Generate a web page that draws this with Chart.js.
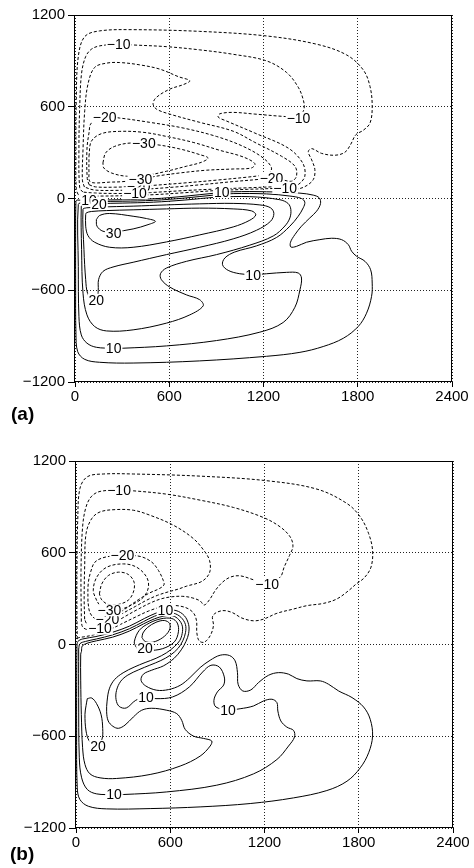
<!DOCTYPE html>
<html>
<head>
<meta charset="utf-8">
<script src="https://cdn.jsdelivr.net/npm/chart.js@4.4.1/dist/chart.umd.min.js"></script>
<style>
  body { margin:0; background:#fff; width:474px; height:868px; position:relative; overflow:hidden; font-family:"Liberation Sans", Arial, sans-serif; }
  canvas { position:absolute; }
  #chartA { top:0; left:0; }
  #chartB { top:446px; left:1px; }
  .tag { position:absolute; font-weight:bold; font-size:19px; line-height:19px; color:#000; }
</style>
</head>
<body>
<canvas id="chartA" width="474" height="410"></canvas>
<canvas id="chartB" width="474" height="410"></canvas>
<div class="tag" style="left:11px;top:404px">(a)</div>
<div class="tag" style="left:10px;top:844px">(b)</div>
<script>
// axes
const xTicks = [0, 600, 1200, 1800, 2400];
const yTicks = [-1200, -600, 0, 600, 1200];
const xTickLabels = ['0', '600', '1200', '1800', '2400'];
const yTickLabels = ['−1200', '−600', '0', '600', '1200'];

// ---- panel (a): negative (dashed) contours, [x, y]
const aNeg1 = [[20,26],[8,60],[6,320],[8,646],[21,928],[62,1059],[157,1096],[370,1104],[794,1093],[1219,1063],[1538,1009],[1729,939],[1835,841],[1878,733],[1892,602],[1878,493],[1835,446],[1788,417],[1754,352],[1718,302],[1655,283],[1570,295],[1507,326],[1485,306],[1507,252],[1527,189],[1517,124],[1464,78],[1400,60],[1338,68],[1279,66],[1100,60],[900,52],[700,38],[500,25],[300,18],[150,16],[60,18],[20,26]];
const aNeg2 = [[50,42],[30,70],[25,320],[30,602],[42,820],[68,928],[104,976],[157,998],[278,1009],[370,1004],[582,993],[794,972],[1007,943],[1219,900],[1347,824],[1421,728],[1453,646],[1459,591],[1440,550],[1400,535],[1325,537],[1145,552],[1007,563],[922,554],[911,533],[964,507],[1145,428],[1357,330],[1449,233],[1463,146],[1421,91],[1368,80],[1250,76],[1100,70],[900,62],[700,52],[500,40],[382,34],[250,33],[120,36],[50,42]];
const aNeg3 = [[60,75],[47,120],[51,320],[62,576],[83,750],[125,857],[200,885],[285,889],[412,874],[540,846],[660,796],[731,770],[690,745],[603,715],[518,661],[497,620],[518,585],[603,552],[794,498],[1007,440],[1145,367],[1315,276],[1400,211],[1410,146],[1378,113],[1300,128],[1251,135],[1170,125],[1000,110],[800,90],[600,72],[400,58],[250,53],[120,56],[60,75]];
const aNeg4 = [[90,90],[78,130],[76,320],[89,428],[104,493],[189,533],[285,526],[476,498],[688,461],[900,406],[1070,341],[1198,265],[1251,200],[1230,163],[1177,150],[1100,140],[900,120],[700,102],[500,86],[405,80],[250,74],[130,76],[90,90]];
const aNeg5 = [[89,276],[104,374],[168,424],[285,439],[433,433],[582,406],[752,367],[922,315],[1070,272],[1145,228],[1124,200],[1007,193],[837,185],[667,167],[518,146],[416,124],[300,110],[221,107],[125,102],[93,113],[89,167],[89,276]];
const aNeg6 = [[178,233],[195,298],[253,341],[359,363],[518,352],[667,324],[794,287],[847,265],[805,237],[709,211],[582,178],[455,152],[327,146],[232,167],[183,200],[178,233]];

// ---- panel (a): positive (solid) contours
const aPos1 = [[13,-10],[6,-17],[4,-200],[4,-553],[6,-881],[17,-1001],[62,-1052],[157,-1071],[370,-1076],[794,-1062],[1219,-1032],[1432,-1006],[1580,-968],[1708,-914],[1803,-837],[1856,-750],[1888,-640],[1892,-553],[1882,-466],[1846,-411],[1793,-378],[1761,-345],[1740,-302],[1697,-269],[1633,-260],[1559,-269],[1474,-286],[1410,-313],[1374,-317],[1372,-286],[1400,-236],[1442,-181],[1495,-127],[1538,-83],[1563,-33],[1555,4],[1517,22],[1432,35],[1219,44],[1007,44],[880,34],[700,15],[500,-2],[300,-8],[157,-10],[51,-12],[13,-10]];
const aPos2 = [[51,-24],[21,-39],[21,-444],[25,-772],[40,-892],[76,-946],[136,-973],[246,-979],[306,-979],[582,-964],[901,-929],[1177,-874],[1325,-811],[1400,-711],[1432,-597],[1442,-520],[1421,-487],[1347,-483],[1219,-492],[1134,-498],[1049,-492],[975,-470],[939,-433],[954,-389],[1017,-350],[1155,-310],[1283,-255],[1368,-181],[1421,-116],[1453,-61],[1463,-24],[1442,0],[1368,16],[1219,30],[1007,32],[880,22],[700,3],[500,-12],[300,-18],[157,-20],[51,-24]];
const aPos3 = [[51,-38],[40,-50],[42,-335],[51,-619],[76,-761],[125,-837],[200,-866],[370,-859],[582,-815],[731,-761],[816,-702],[794,-662],[709,-630],[603,-579],[550,-531],[544,-492],[582,-455],[709,-411],[901,-367],[1113,-305],[1262,-245],[1336,-180],[1368,-127],[1374,-72],[1357,-33],[1304,-8],[1113,12],[900,8],[700,-10],[500,-24],[300,-30],[157,-33],[51,-38]];
const aPos4 = [[72,-61],[51,-70],[57,-335],[68,-531],[80,-620],[110,-665],[140,-650],[148,-600],[150,-531],[178,-477],[242,-448],[370,-417],[582,-367],[794,-319],[1007,-264],[1155,-208],[1245,-149],[1266,-98],[1245,-61],[1177,-42],[1007,-32],[794,-35],[582,-42],[370,-50],[157,-56],[72,-61]];
const aPos5 = [[68,-105],[68,-181],[83,-243],[125,-286],[221,-319],[370,-319],[582,-284],[794,-238],[1007,-186],[1113,-142],[1151,-107],[1124,-81],[1007,-68],[794,-63],[582,-68],[370,-74],[200,-79],[104,-85],[72,-94],[68,-105]];
const aPos6 = [[136,-138],[157,-111],[221,-98],[370,-116],[455,-131],[512,-149],[465,-171],[370,-199],[246,-218],[178,-214],[140,-181],[136,-138]];

// contour labels of panel (a): [x, y, text]
const aLabels = [
  [278,1009,'−10'], [1423,528,'−10'], [189,533,'−20'], [438,363,'−30'],
  [1251,135,'−20'], [1338,70,'−10'], [405,80,'−20'], [382,34,'−10'], [416,124,'−30'],
  [934,42,'10'], [89,-8,'10'], [153,-36,'20'], [246,-979,'10'], [1134,-498,'10'],
  [136,-662,'20'], [246,-225,'30']
];

// ---- panel (b): negative (dashed) contours
const bNeg1 = [[8,35],[6,200],[6,484],[11,812],[25,1020],[72,1097],[174,1115],[365,1115],[790,1101],[1215,1071],[1534,1016],[1725,922],[1810,834],[1863,725],[1888,615],[1878,506],[1835,436],[1784,396],[1735,352],[1661,298],[1576,269],[1470,254],[1385,232],[1279,204],[1194,166],[1130,155],[1056,173],[992,210],[928,221],[871,188],[875,123],[854,57],[816,15],[784,24],[769,79],[768,150],[752,200],[718,232],[668,250],[610,255],[540,245],[460,218],[380,180],[300,140],[230,105],[160,78],[100,60],[50,50],[15,44],[8,35]];
const bNeg2 = [[34,150],[32,484],[42,769],[64,900],[100,970],[153,1001],[274,1009],[365,1005],[578,983],[790,944],[1003,896],[1194,830],[1300,769],[1364,703],[1381,642],[1359,582],[1325,506],[1300,440],[1215,396],[1130,423],[1045,449],[981,440],[928,403],[886,352],[850,293],[816,258],[790,285],[740,305],[680,315],[610,312],[540,298],[470,270],[390,228],[310,182],[240,140],[175,110],[120,97],[70,98],[42,115],[34,150]];
const bNeg3 = [[55,165],[52,300],[55,500],[64,725],[100,823],[153,867],[249,882],[365,878],[472,845],[620,780],[748,692],[822,604],[850,550],[854,484],[833,440],[790,407],[705,382],[650,362],[590,345],[520,322],[450,290],[380,250],[300,205],[230,160],[170,137],[110,128],[70,135],[55,165]];
const bNeg4 = [[76,280],[78,400],[95,480],[121,539],[185,571],[295,582],[408,576],[482,539],[525,484],[556,418],[560,390],[530,365],[470,338],[400,295],[330,245],[270,203],[220,175],[170,163],[120,170],[88,210],[76,280]];
const bNeg5 = [[132,287],[110,352],[132,440],[195,505],[302,527],[387,505],[450,440],[461,374],[429,309],[360,262],[290,232],[213,224],[160,245],[132,287]];
const bNeg6 = [[149,331],[164,396],[206,451],[270,473],[333,458],[370,407],[365,342],[333,290],[270,262],[206,262],[164,292],[149,331]];

// ---- panel (b): positive (solid) contours
const bPos1 = [[6,-10],[12,20],[42,36],[127,52],[233,80],[340,120],[435,170],[509,205],[569,222],[637,222],[690,188],[717,130],[717,72],[700,20],[670,-35],[625,-90],[556,-140],[482,-168],[429,-194],[414,-234],[444,-271],[514,-299],[588,-295],[663,-267],[726,-216],[790,-151],[854,-103],[918,-70],[977,-72],[1013,-107],[1028,-184],[1032,-260],[1062,-304],[1113,-297],[1162,-249],[1226,-201],[1289,-184],[1353,-194],[1406,-223],[1470,-238],[1555,-238],[1608,-260],[1672,-304],[1757,-347],[1831,-409],[1873,-489],[1888,-599],[1863,-708],[1810,-806],[1725,-894],[1597,-955],[1385,-1003],[1109,-1040],[790,-1062],[472,-1073],[195,-1075],[79,-1058],[25,-1014],[8,-937],[4,-566],[5,-129],[6,-10]];
const bPos2 = [[17,-30],[25,5],[60,20],[130,36],[233,63],[340,103],[430,150],[500,185],[560,203],[620,205],[668,178],[697,130],[697,78],[680,25],[650,-25],[600,-70],[540,-105],[470,-135],[400,-165],[330,-200],[285,-240],[258,-300],[255,-360],[275,-405],[320,-415],[380,-365],[446,-343],[509,-354],[615,-343],[721,-278],[806,-180],[859,-136],[912,-147],[944,-212],[940,-265],[900,-310],[878,-365],[891,-409],[968,-427],[1045,-420],[1130,-402],[1194,-369],[1247,-358],[1279,-380],[1285,-435],[1304,-500],[1342,-540],[1385,-562],[1391,-605],[1353,-664],[1279,-752],[1130,-846],[896,-920],[578,-964],[302,-981],[242,-981],[132,-977],[72,-948],[36,-872],[21,-741],[17,-347],[17,-30]];
const bPos3 = [[35,-45],[40,-10],[70,8],[130,24],[233,48],[340,88],[430,135],[500,168],[560,186],[615,188],[655,162],[677,120],[676,72],[660,25],[625,-15],[575,-55],[510,-90],[440,-118],[370,-148],[300,-185],[245,-230],[212,-290],[198,-370],[195,-440],[205,-500],[235,-535],[270,-548],[312,-527],[365,-474],[418,-430],[482,-417],[578,-430],[641,-452],[673,-496],[695,-555],[748,-599],[811,-614],[864,-631],[854,-664],[790,-730],[663,-795],[472,-850],[259,-876],[153,-872],[89,-846],[57,-784],[42,-675],[34,-457],[30,-238],[30,-63],[35,-45]];
const bPos4 = [[382,-16],[371,17],[403,93],[467,140],[541,168],[610,170],[645,140],[652,83],[626,17],[552,-27],[456,-40],[400,-35],[382,-16]];
const bPos5 = [[420,45],[440,20],[488,15],[552,45],[594,93],[596,137],[562,157],[509,145],[456,112],[426,75],[420,45]];
const bPos6 = [[72,-354],[64,-400],[57,-457],[64,-566],[85,-631],[130,-662],[165,-620],[170,-550],[160,-460],[130,-385],[100,-350],[72,-354]];

const bLabels = [
  [274,1009,'−10'], [295,582,'−20'], [1217,396,'−10'],
  [200,165,'−20'], [213,224,'−30'], [153,104,'−10'],
  [569,225,'10'], [440,-22,'20'], [446,-343,'10'], [968,-427,'10'],
  [140,-664,'20'], [242,-981,'10']
];

const tickFont = { family: 'Liberation Sans', size: 15 };

function toPts(c) { return c.map(p => ({ x: p[0], y: p[1] })); }

function labelPlugin(items) {
  return {
    id: 'contourLabels',
    afterDatasetsDraw(chart) {
      const { ctx, scales: { x, y }, chartArea: a } = chart;
      ctx.save();
      ctx.beginPath();
      ctx.rect(a.left, a.top, a.right - a.left, a.bottom - a.top);
      ctx.clip();
      ctx.font = '14px "Liberation Sans"';
      ctx.textAlign = 'center';
      ctx.textBaseline = 'middle';
      for (const [vx, vy, t] of items) {
        const px = x.getPixelForValue(vx), py = y.getPixelForValue(vy);
        const w = ctx.measureText(t).width;
        ctx.fillStyle = '#fff';
        ctx.fillRect(px - w / 2 - 1, py - 6, w + 2, 12);
        ctx.fillStyle = '#000';
        ctx.fillText(t, px, py + 1);
      }
      ctx.restore();
    },
    afterDraw(chart) {
      const { ctx, chartArea: a } = chart;
      ctx.save();
      ctx.strokeStyle = '#000';
      ctx.lineWidth = 1;
      ctx.strokeRect(Math.round(a.left) - 0.5, Math.round(a.top) + 0.5,
                     Math.round(a.right - a.left), Math.round(a.bottom - a.top) - 1);
      ctx.restore();
    }
  };
}

function makePanel(id, pos, neg, labels) {
  const datasets = [];
  pos.forEach(c => datasets.push({
    data: toPts(c), showLine: true, borderColor: '#000', borderWidth: 1,
    pointRadius: 0, tension: 0.35, fill: false
  }));
  neg.forEach(c => datasets.push({
    data: toPts(c), showLine: true, borderColor: '#000', borderWidth: 1,
    borderDash: [3, 2], pointRadius: 0, tension: 0.35, fill: false
  }));

  new Chart(document.getElementById(id), {
    type: 'scatter',
    data: { datasets },
    options: {
      responsive: false,
      animation: false,
      devicePixelRatio: 1,
      layout: { padding: { left: 0, top: 15, right: 22, bottom: 0 } },
      plugins: { legend: { display: false }, tooltip: { enabled: false } },
      scales: {
        x: {
          type: 'linear', min: 0, max: 2400,
          afterBuildTicks: s => { s.ticks = xTicks.map(v => ({ value: v })); },
          afterFit: s => { s.height = 28; },
          ticks: { callback: (v, i) => xTickLabels[i], font: tickFont, color: '#000',
                   padding: 1, maxRotation: 0, autoSkip: false },
          grid: { color: '#222', lineWidth: 1, tickLength: 5, tickColor: '#000', tickWidth: 1 },
          border: { display: false, dash: [1, 2] }
        },
        y: {
          type: 'linear', min: -1200, max: 1200,
          afterBuildTicks: s => { s.ticks = yTicks.map(v => ({ value: v })); },
          afterFit: s => { s.width = 75; },
          ticks: { callback: (v, i) => yTickLabels[i], font: tickFont, color: '#000',
                   padding: 3, autoSkip: false },
          grid: { color: '#222', lineWidth: 1, tickLength: 7, tickColor: '#000', tickWidth: 1 },
          border: { display: false, dash: [1, 2] }
        }
      }
    },
    plugins: [labelPlugin(labels)]
  });
}

makePanel('chartA',
  [aPos1, aPos2, aPos3, aPos4, aPos5, aPos6],
  [aNeg1, aNeg2, aNeg3, aNeg4, aNeg5, aNeg6],
  aLabels);
makePanel('chartB',
  [bPos1, bPos2, bPos3, bPos4, bPos5, bPos6],
  [bNeg1, bNeg2, bNeg3, bNeg4, bNeg5, bNeg6],
  bLabels);
</script>
</body>
</html>
